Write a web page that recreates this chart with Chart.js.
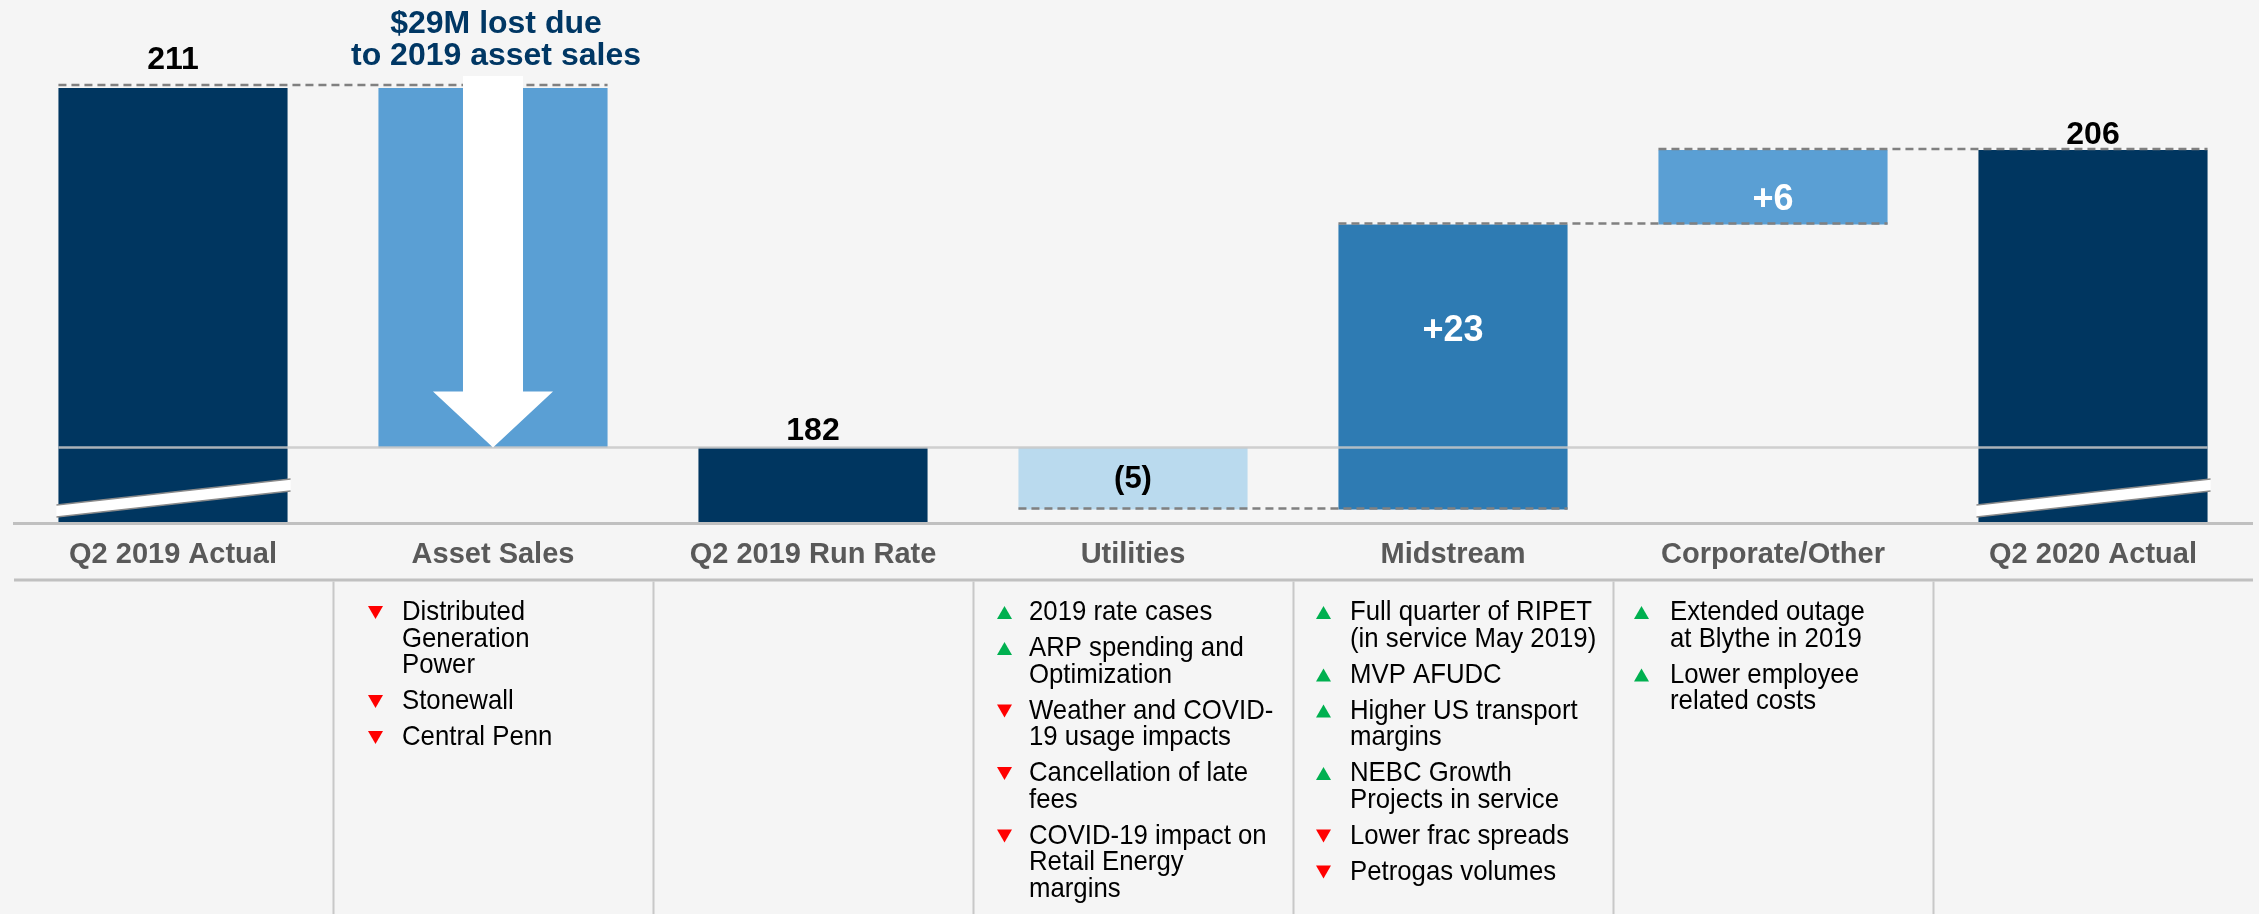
<!DOCTYPE html>
<html>
<head>
<meta charset="utf-8">
<script src="https://cdn.jsdelivr.net/npm/chart.js@4.4.1/dist/chart.umd.min.js"></script>
<style>
  html, body { margin: 0; padding: 0; background: #f5f5f5; }
  #c { display: block; }
</style>
</head>
<body>
<canvas id="c" width="2259" height="914"></canvas>
<script>
// ---------------- DATA ----------------
const categories = ['Q2 2019 Actual', 'Asset Sales', 'Q2 2019 Run Rate', 'Utilities', 'Midstream', 'Corporate/Other', 'Q2 2020 Actual'];
const values = [211, -29, 182, -5, 23, 6, 206];
const isTotal = [true, false, true, false, false, false, true];
const valueLabels = ['211', '', '182', '(5)', '+23', '+6', '206'];
const calloutLines = ['$29M lost due', 'to 2019 asset sales'];
const axisMin = 176;
const axisMax = 216;
const notesAssetSales = [
  { dir: 'down', lines: ['Distributed', 'Generation', 'Power'] },
  { dir: 'down', lines: ['Stonewall'] },
  { dir: 'down', lines: ['Central Penn'] }
];
const notesUtilities = [
  { dir: 'up', lines: ['2019 rate cases'] },
  { dir: 'up', lines: ['ARP spending and', 'Optimization'] },
  { dir: 'down', lines: ['Weather and COVID-', '19 usage impacts'] },
  { dir: 'down', lines: ['Cancellation of late', 'fees'] },
  { dir: 'down', lines: ['COVID-19 impact on', 'Retail Energy', 'margins'] }
];
const notesMidstream = [
  { dir: 'up', lines: ['Full quarter of RIPET', '(in service May 2019)'] },
  { dir: 'up', lines: ['MVP AFUDC'] },
  { dir: 'up', lines: ['Higher US transport', 'margins'] },
  { dir: 'up', lines: ['NEBC Growth', 'Projects in service'] },
  { dir: 'down', lines: ['Lower frac spreads'] },
  { dir: 'down', lines: ['Petrogas volumes'] }
];
const notesCorporate = [
  { dir: 'up', lines: ['Extended outage', 'at Blythe in 2019'] },
  { dir: 'up', lines: ['Lower employee', 'related costs'] }
];
const notesByCategory = [[], notesAssetSales, [], notesUtilities, notesMidstream, notesCorporate, []];

// ---------------- DERIVED ----------------
let running = 0;
const floating = values.map((v, i) => {
  if (isTotal[i]) { running = v; return [axisMin, v]; }
  const start = running; running += v;
  return [Math.min(start, running), Math.max(start, running)];
});
const endLevels = [];
{ let r = 0; values.forEach((v, i) => { r = isTotal[i] ? v : r + v; endLevels[i] = r; }); }

// ---------------- STYLE ----------------
const FONT = "'Liberation Sans', Arial, Helvetica, sans-serif";
const NAVY = '#003660';
const barColors = [NAVY, '#5a9fd4', NAVY, '#badaee', '#2e7bb3', '#5a9fd4', NAVY];
const labelColors = ['#000', '#000', '#000', '#000', '#fff', '#fff', '#000'];
const deltaLabelFrac = [0, 0, 0, 0.5, 0.37, 0.66, 0];
const totalLabelGap = [19, 0, 8, 0, 0, 0, 6];
const markerOffsets = [0, 35, 0, 24, 23, 21, 0];
const textOffsets = [0, 69, 0, 56, 57, 57, 0];

function stretchText(ctx, text, x, y, sx) {
  ctx.save(); ctx.translate(x, y); ctx.scale(sx, 1); ctx.fillText(text, 0, 0); ctx.restore();
}

const overlay = {
  id: 'overlay',
  beforeDraw(chart) {
    const ctx = chart.ctx;
    ctx.save(); ctx.fillStyle = '#f5f5f5'; ctx.fillRect(0, 0, chart.width, chart.height); ctx.restore();
  },
  afterDatasetsDraw(chart) {
    const { ctx, chartArea: ca, scales: { y } } = chart;
    const meta = chart.getDatasetMeta(0);
    const B = i => { const el = meta.data[i]; return { l: el.x - el.width / 2, r: el.x + el.width / 2, cx: el.x, w: el.width }; };
    const Y = v => y.getPixelForValue(v);
    ctx.save();

    // axis line
    ctx.strokeStyle = '#c0c0c0'; ctx.lineWidth = 3;
    ctx.beginPath(); ctx.moveTo(ca.left, ca.bottom + 1.5); ctx.lineTo(ca.right, ca.bottom + 1.5); ctx.stroke();

    // break slashes on total bars that start at the axis
    [0, 6].forEach(i => {
      const b = B(i); const L = b.l - 2, R = b.r + 3, bot = ca.bottom;
      ctx.beginPath();
      ctx.moveTo(L, bot - 17); ctx.lineTo(R, bot - 43); ctx.lineTo(R, bot - 31); ctx.lineTo(L, bot - 5); ctx.closePath();
      ctx.fillStyle = '#ffffff'; ctx.fill();
      ctx.strokeStyle = '#8a8a8a'; ctx.lineWidth = 1.5;
      ctx.beginPath(); ctx.moveTo(L, bot - 17); ctx.lineTo(R, bot - 43); ctx.stroke();
      ctx.beginPath(); ctx.moveTo(L, bot - 5); ctx.lineTo(R, bot - 31); ctx.stroke();
    });

    // run-rate level line across all bars
    const rr = Y(endLevels[2]);
    ctx.strokeStyle = 'rgba(200,200,200,0.85)'; ctx.lineWidth = 2.5;
    ctx.beginPath(); ctx.moveTo(B(0).l, rr); ctx.lineTo(B(6).r, rr); ctx.stroke();

    // dashed connectors
    ctx.strokeStyle = '#808080'; ctx.lineWidth = 2.5; ctx.setLineDash([8, 5]);
    [0, 3, 4, 5].forEach(i => {
      const lv = Y(endLevels[i]) - (i === 0 ? 3 : 1);
      ctx.beginPath(); ctx.moveTo(B(i).l, lv); ctx.lineTo(B(i + 1).r, lv); ctx.stroke();
    });
    ctx.setLineDash([]);

    // white arrow on asset sales bar
    {
      const b = B(1); const topY = Y(floating[1][1]) - 12; const tip = Y(floating[1][0]);
      const sw = b.w * 0.262, hw = b.w * 0.524, hh = 56;
      ctx.fillStyle = '#ffffff';
      ctx.beginPath();
      ctx.moveTo(b.cx - sw / 2, topY); ctx.lineTo(b.cx + sw / 2, topY);
      ctx.lineTo(b.cx + sw / 2, tip - hh); ctx.lineTo(b.cx + hw / 2, tip - hh);
      ctx.lineTo(b.cx, tip); ctx.lineTo(b.cx - hw / 2, tip - hh);
      ctx.lineTo(b.cx - sw / 2, tip - hh); ctx.closePath(); ctx.fill();
    }

    // callout text
    ctx.fillStyle = '#003764'; ctx.textAlign = 'center'; ctx.textBaseline = 'alphabetic';
    ctx.font = 'bold 32px ' + FONT;
    ctx.fillText(calloutLines[0], B(1).cx + 3, 33);
    ctx.fillText(calloutLines[1], B(1).cx + 3, 65);

    // value labels
    valueLabels.forEach((t, i) => {
      if (!t) return;
      ctx.fillStyle = labelColors[i];
      if (isTotal[i]) {
        ctx.font = 'bold 32px ' + FONT; ctx.textBaseline = 'alphabetic';
        ctx.fillText(t, B(i).cx, Y(floating[i][1]) - totalLabelGap[i]);
      } else {
        const white = labelColors[i] === '#fff';
        ctx.font = 'bold ' + (white ? 36 : 31) + 'px ' + FONT; ctx.textBaseline = 'middle';
        const top = Y(floating[i][1]), bot = Y(floating[i][0]);
        ctx.fillText(t, B(i).cx, top + (bot - top) * deltaLabelFrac[i] + 1);
      }
    });
    ctx.restore();
  },
  afterDraw(chart) {
    const { ctx, chartArea: ca } = chart;
    const meta = chart.getDatasetMeta(0);
    const catW = (ca.right - ca.left) / categories.length;
    ctx.save();
    // table frame
    const lineY = 580;
    ctx.strokeStyle = '#c0c0c0'; ctx.lineWidth = 3;
    ctx.beginPath(); ctx.moveTo(ca.left + 1, lineY); ctx.lineTo(ca.right, lineY); ctx.stroke();
    ctx.strokeStyle = '#c8c8c8'; ctx.lineWidth = 2;
    for (let i = 1; i < categories.length; i++) {
      const xb = Math.round(meta.data[i].x - catW / 2) + 0.5;
      ctx.beginPath(); ctx.moveTo(xb, lineY + 1.5); ctx.lineTo(xb, chart.height); ctx.stroke();
    }
    // notes
    ctx.font = '28px ' + FONT; ctx.textAlign = 'left'; ctx.textBaseline = 'alphabetic';
    notesByCategory.forEach((items, i) => {
      const left = meta.data[i].x - catW / 2;
      let base = 620;
      items.forEach(item => {
        const mx = left + markerOffsets[i];
        ctx.fillStyle = item.dir === 'up' ? '#00b050' : '#ff0000';
        ctx.beginPath();
        if (item.dir === 'up') { ctx.moveTo(mx, base - 1); ctx.lineTo(mx + 15, base - 1); ctx.lineTo(mx + 7.5, base - 14); }
        else { ctx.moveTo(mx, base - 14); ctx.lineTo(mx + 15, base - 14); ctx.lineTo(mx + 7.5, base - 1); }
        ctx.closePath(); ctx.fill();
        ctx.fillStyle = '#000000';
        item.lines.forEach((ln, k) => {
          stretchText(ctx, ln, left + textOffsets[i], base, 0.92);
          if (k < item.lines.length - 1) base += 26.5;
        });
        base += 36;
      });
    });
    ctx.restore();
  }
};

new Chart(document.getElementById('c'), {
  type: 'bar',
  data: {
    labels: categories,
    datasets: [{
      data: floating,
      backgroundColor: barColors,
      borderWidth: 0,
      borderSkipped: false,
      barPercentage: 0.716,
      categoryPercentage: 1.0
    }]
  },
  options: {
    responsive: false,
    animation: false,
    devicePixelRatio: 1,
    layout: { padding: { left: 13, right: 6, top: 26, bottom: 334 } },
    plugins: { legend: { display: false }, tooltip: { enabled: false }, title: { display: false } },
    scales: {
      x: {
        grid: { display: false, drawTicks: false },
        border: { display: false },
        ticks: { font: { family: FONT, size: 29, weight: 'bold' }, color: '#595959', padding: 16, maxRotation: 0, autoSkip: false },
        afterFit: s => { s.height = 58; }
      },
      y: { display: false, min: axisMin, max: axisMax }
    }
  },
  plugins: [overlay]
});
</script>
</body>
</html>
